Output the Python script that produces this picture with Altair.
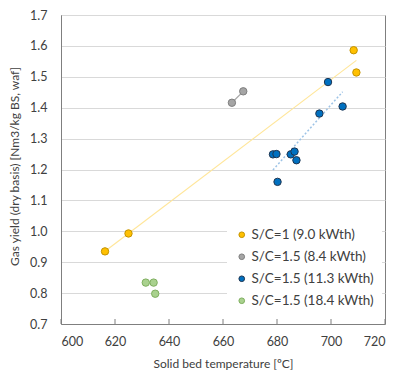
import altair as alt
import pandas as pd

series_names = ["S/C=1 (9.0 kWth)", "S/C=1.5 (8.4 kWth)", "S/C=1.5 (11.3 kWth)", "S/C=1.5 (18.4 kWth)"]
fill_colors = ["#FFC000", "#A5A5A5", "#0070C0", "#A9D18E"]
stroke_colors = ["#C49300", "#7F7F7F", "#1F3550", "#7FAF5F"]

t_sc1 = [616.3, 625.0, 708.4, 709.4]
y_sc1 = [0.935, 0.993, 1.586, 1.514]
t_84 = [663.3, 667.5]
y_84 = [1.416, 1.453]
t_113 = [698.9, 704.3, 695.7, 678.5, 679.8, 685.1, 686.5, 687.2, 680.2]
y_113 = [1.483, 1.404, 1.381, 1.249, 1.250, 1.249, 1.258, 1.230, 1.160]
t_184 = [631.4, 634.3, 634.9]
y_184 = [0.834, 0.834, 0.798]

x_ticks = [600, 620, 640, 660, 680, 700, 720]
y_ticks = [0.7, 0.8, 0.9, 1.0, 1.1, 1.2, 1.3, 1.4, 1.5, 1.6, 1.7]

rows = []
for name, ts, ys in zip(series_names, [t_sc1, t_84, t_113, t_184], [y_sc1, y_84, y_113, y_184]):
    for t, y in zip(ts, ys):
        rows.append({"t": t, "y": y, "series": name})
df = pd.DataFrame(rows)
ticks_df = pd.DataFrame({"t": x_ticks})

FONT = "Lato"
xscale = alt.Scale(domain=[600, 720], nice=False, zero=False)
yscale = alt.Scale(domain=[0.7, 1.7], nice=False, zero=False)

xenc = alt.X("t:Q", scale=xscale, axis=alt.Axis(
    values=x_ticks, title="Solid bed temperature [ºC]", grid=False, ticks=False,
    labelPadding=11, titlePadding=11, labelFontSize=12.5, titleFontSize=12,
    labelColor="#404040", titleColor="#404040", domainColor="#7F7F7F",
    labelFont=FONT, titleFont=FONT, titleFontWeight="normal"))
yenc = alt.Y("y:Q", scale=yscale, axis=alt.Axis(
    values=y_ticks, format=".1f", title="Gas yield (dry basis) [Nm3/kg BS, waf]",
    grid=True, gridColor="#D9D9D9", ticks=False, labelPadding=14, titlePadding=8,
    labelFontSize=12.5, titleFontSize=12, labelColor="#404040", titleColor="#404040",
    domainColor="#7F7F7F", labelFont=FONT, titleFont=FONT, titleFontWeight="normal",
    titleY=151))

base = alt.Chart(df)

trend_yellow = base.transform_filter(alt.datum.series == series_names[0]).transform_regression(
    "t", "y").mark_line(color="#FFE699", strokeWidth=1.1).encode(x=xenc, y=yenc)
trend_blue = base.transform_filter(alt.datum.series == series_names[2]).transform_regression(
    "t", "y").mark_line(color="#9DC3E6", strokeWidth=1.5, strokeDash=[2, 2]).encode(x=xenc, y=yenc)
gray_line = base.transform_filter(alt.datum.series == series_names[1]).mark_line(
    color="#A5A5A5", strokeWidth=1.2).encode(x=xenc, y=yenc)

legend = alt.Legend(title=None, orient="none", legendX=166, legendY=205,
                    fillColor="white", padding=8, labelFont=FONT, labelFontSize=13.5,
                    labelColor="#404040", symbolSize=32, rowPadding=7, labelOffset=3,
                    symbolStrokeWidth=1)
points = base.mark_point(filled=True, size=55, strokeWidth=1, opacity=1).encode(
    x=xenc, y=yenc,
    fill=alt.Fill("series:N", scale=alt.Scale(domain=series_names, range=fill_colors), legend=legend),
    stroke=alt.Stroke("series:N", scale=alt.Scale(domain=series_names, range=stroke_colors), legend=legend),
    shape=alt.value("circle"))

ticks = alt.Chart(ticks_df).mark_rule(color="#7F7F7F").encode(
    x=alt.X("t:Q", scale=xscale), y=alt.value(309), y2=alt.value(304))

chart = alt.layer(trend_yellow, trend_blue, gray_line, ticks, points).properties(
    width=324, height=309,
    autosize=alt.AutoSizeParams(type="none"),
    padding={"left": 53, "top": 7, "right": 3, "bottom": 50},
).configure_view(stroke="#7F7F7F", strokeWidth=1).configure_axis(domainWidth=1)

chart.save("out.html", embed_options={"renderer": "svg", "actions": False})
